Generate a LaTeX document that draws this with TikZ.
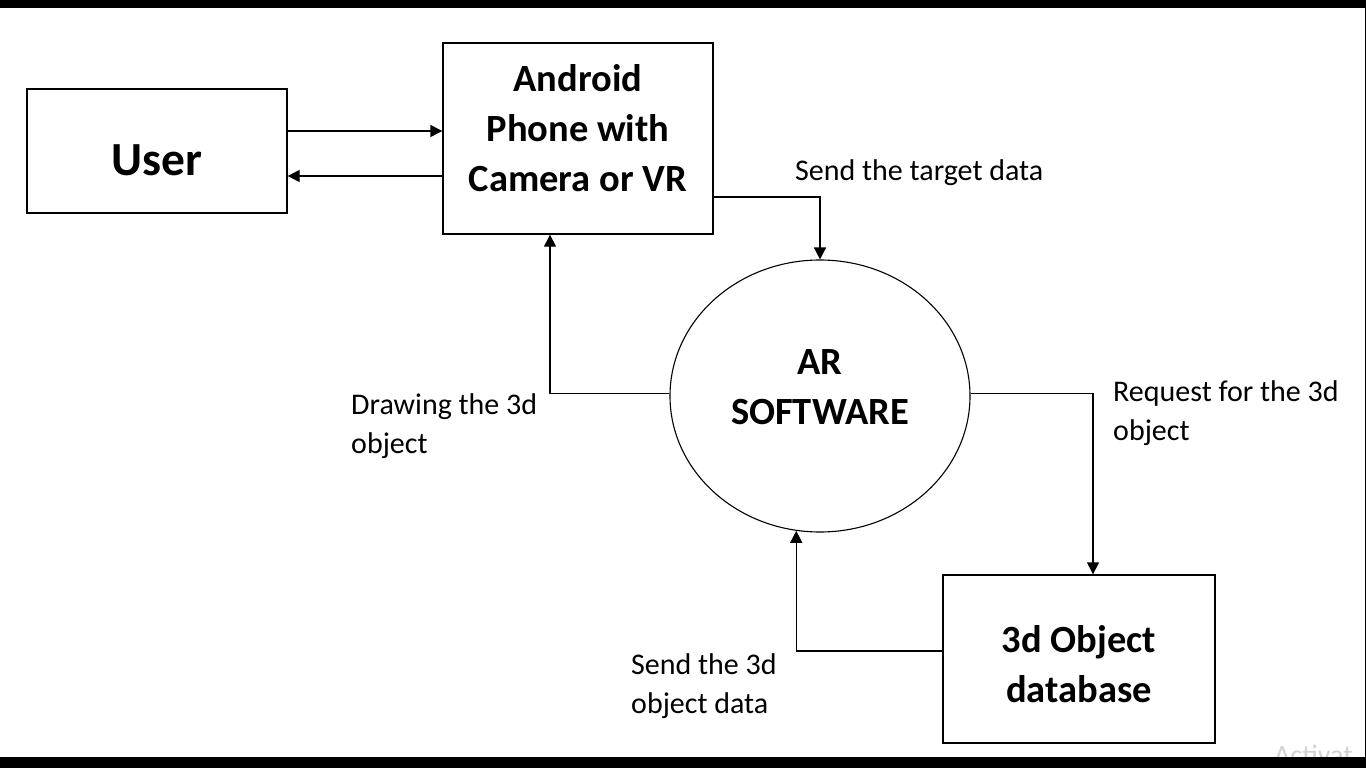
\documentclass[tikz,border=0pt]{standalone}
\usepackage{fontspec}
\setmainfont{Carlito}
\usetikzlibrary{shapes.geometric,arrows.meta}
\tikzset{
  boxnode/.style={draw, line width=1.4pt, inner sep=0pt},
  bigtxt/.style={font=\bfseries\fontsize{38.5}{50}\selectfont, align=center, inner sep=0pt},
  usertxt/.style={font=\bfseries\fontsize{47.5}{56}\selectfont, inner sep=0pt},
  lbl/.style={font=\fontsize{30}{39}\selectfont, align=left, anchor=west, inner sep=0pt},
  arr/.style={line width=1.4pt, -{Triangle[length=12pt,width=12pt]}},
  band/.style={fill=black, draw=none}
}
\begin{document}
\begin{tikzpicture}[x=1pt,y=-1pt]
\useasboundingbox (0,0) rectangle (1366,768);
\fill[white] (0,0) rectangle (1366,768);
% boxes
\node[boxnode, minimum width=260pt, minimum height=124pt] (user) at (157,151) {};
\node[usertxt] (usert) at (157,160) {User};
\node[boxnode, minimum width=270pt, minimum height=191pt] (android) at (578,138.5) {};
\node[bigtxt] (androidt) at (578,128.5) {Android\\Phone with\\Camera or VR};
\node[draw, ellipse, line width=1.1pt, minimum width=300pt, minimum height=272pt, inner sep=0pt] (ar) at (820,396) {};
\node[bigtxt] (art) at (820,387) {AR\\SOFTWARE};
\node[boxnode, minimum width=272pt, minimum height=168pt] (db) at (1079,659) {};
\node[bigtxt] (dbt) at (1079,664.5) {3d Object\\database};
% labels
\node[lbl] (l1) at (795,173) {Send the target data};
\node[lbl] (l2) at (1113,413) {Request for the 3d\\object};
\node[lbl] (l3) at (351,426.5) {Drawing the 3d\\object};
\node[lbl] (l4) at (631,686) {Send the 3d\\object data};
% connectors
\draw[arr] (user.east |- 0,131) -- (android.west |- 0,131);
\draw[arr] (android.west |- 0,176) -- (user.east |- 0,176);
\draw[arr] (android.east |- 0,197) -| (ar.north);
\draw[arr] (ar.179.3) -| (550,0 |- android.south);
\draw[arr] (ar.1.2) -| (1093,0 |- db.north);
\draw[arr] (db.west |- 0,651) -| (ar.260);
% watermark
\node[font=\fontsize{28}{30}\selectfont, text=gray!35, anchor=base west, inner sep=0pt] (wm) at (1274,764) {Activat};
% screen bands
\fill[band] (0,0) rectangle (1366,8);
\fill[band] (0,757) rectangle (1366,768);
\fill[band] (1364.5,0) rectangle (1366,768);
\end{tikzpicture}
\end{document}
